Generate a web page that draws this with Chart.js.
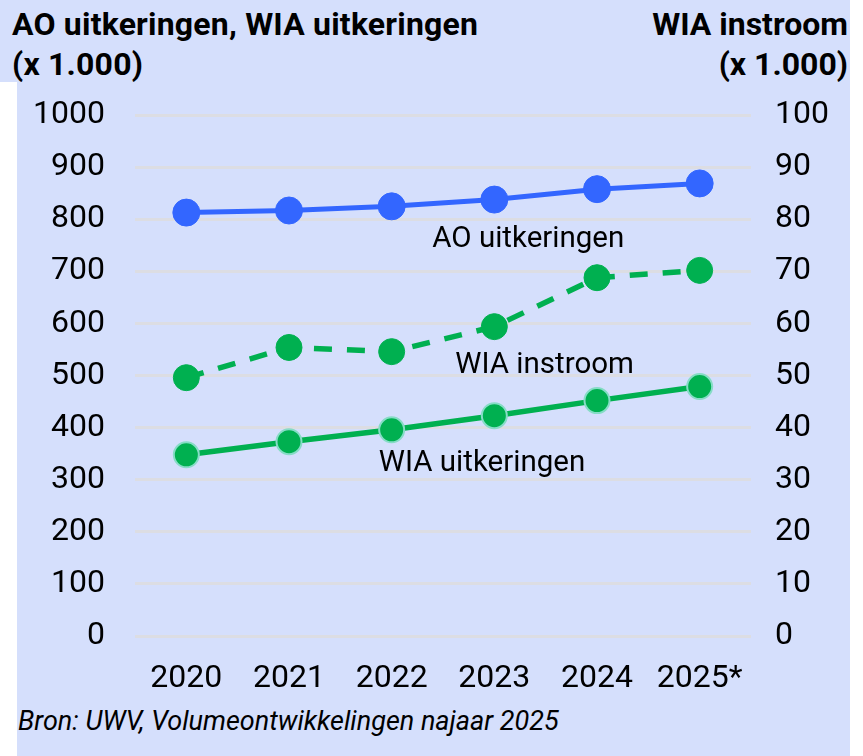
<!DOCTYPE html>
<html>
<head>
    <title>AO en WIA uitkeringen</title>
    <script src="https://cdn.jsdelivr.net/npm/chart.js"></script>
    <style>
        body {
            margin: 0;
            background: #ffffff;
            font-family: Roboto, "Noto Sans", sans-serif;
        }
        .panel {
            position: relative;
            width: 850px;
            height: 756px;
            background: #d5dffc;
        }
        .notch {
            position: absolute;
            left: 0;
            top: 82px;
            width: 17px;
            height: 674px;
            background: #ffffff;
        }
        .title {
            position: absolute;
            top: 4px;
            font-weight: bold;
            font-size: 32px;
            line-height: 40px;
            color: #000;
        }
        .title.left { left: 12px; letter-spacing: 0.2px; }
        .title.right { right: 2px; text-align: right; }
        .source {
            position: absolute;
            left: 18px;
            top: 705px;
            font-size: 27px;
            font-style: italic;
            color: #000;
        }
        .chart-box {
            position: absolute;
            left: 0;
            top: 66px;
            width: 850px;
            height: 634px;
        }
    </style>
</head>
<body>
    <div class="panel">
        <div class="notch"></div>
        <div class="title left">AO uitkeringen, WIA uitkeringen<br>(x 1.000)</div>
        <div class="title right">WIA instroom<br>(x 1.000)</div>
        <div class="chart-box"><canvas id="chart"></canvas></div>
        <div class="source">Bron: UWV, Volumeontwikkelingen najaar 2025</div>
    </div>

    <script>
        const years = ['2020', '2021', '2022', '2023', '2024', '2025*'];
        const aoUitkeringen = [813, 817, 825, 838, 858, 869];
        const wiaUitkeringen = [348, 373, 396, 423, 452, 479];
        const wiaInstroom = [49.6, 55.4, 54.6, 59.4, 68.8, 70.2];

        // series name labels: [text, category position, value on left axis]
        const seriesLabels = [
            ['AO uitkeringen', 3.33, 762],
            ['WIA instroom', 3.49, 519],
            ['WIA uitkeringen', 2.88, 331]
        ];

        const BLUE = '#3366ff';
        const GREEN = '#00b050';
        const FONT = 'Roboto, "Noto Sans", sans-serif';

        const labelPlugin = {
            id: 'seriesLabels',
            afterDatasetsDraw(chart) {
                const ctx = chart.ctx;
                const x = chart.scales.x;
                const y = chart.scales.y;
                ctx.save();
                ctx.fillStyle = '#000';
                ctx.font = '29.5px ' + FONT;
                ctx.textAlign = 'center';
                ctx.textBaseline = 'middle';
                seriesLabels.forEach(([text, pos, val]) => {
                    ctx.fillText(text, x.getPixelForValue(pos), y.getPixelForValue(val));
                });
                ctx.restore();
            }
        };

        new Chart(document.getElementById('chart'), {
            type: 'line',
            data: {
                labels: years,
                datasets: [{
                    label: 'AO uitkeringen',
                    data: aoUitkeringen,
                    yAxisID: 'y',
                    borderColor: BLUE,
                    backgroundColor: BLUE,
                    pointBackgroundColor: BLUE,
                    pointBorderColor: BLUE,
                    borderWidth: 5,
                    pointRadius: 13.5,
                    pointBorderWidth: 1
                }, {
                    label: 'WIA instroom',
                    data: wiaInstroom,
                    yAxisID: 'y2',
                    borderColor: GREEN,
                    backgroundColor: GREEN,
                    pointBackgroundColor: GREEN,
                    pointBorderColor: GREEN,
                    borderWidth: 5.5,
                    borderDash: [18, 15],
                    pointRadius: 13,
                    pointBorderWidth: 1
                }, {
                    label: 'WIA uitkeringen',
                    data: wiaUitkeringen,
                    yAxisID: 'y',
                    borderColor: GREEN,
                    backgroundColor: GREEN,
                    pointBackgroundColor: GREEN,
                    pointBorderColor: '#86dcc6',
                    borderWidth: 5.5,
                    pointRadius: 12.5,
                    pointBorderWidth: 2
                }]
            },
            options: {
                responsive: true,
                maintainAspectRatio: false,
                animation: false,
                layout: { padding: 0 },
                plugins: {
                    legend: { display: false },
                    tooltip: { enabled: false }
                },
                scales: {
                    x: {
                        offset: true,
                        grid: { display: false, drawTicks: false },
                        border: { display: false },
                        ticks: {
                            color: '#000',
                            font: { family: FONT, size: 32 },
                            padding: 24,
                            maxRotation: 0
                        },
                        afterFit(scale) { scale.height = 64; }
                    },
                    y: {
                        position: 'left',
                        min: 0,
                        max: 1000,
                        ticks: {
                            stepSize: 100,
                            color: '#000',
                            font: { family: FONT, size: 32 },
                            padding: 30,
                            callback: (v) => String(v)
                        },
                        grid: { color: '#dcdde3', lineWidth: 3, drawTicks: false },
                        border: { display: false },
                        afterFit(scale) { scale.width = 135; }
                    },
                    y2: {
                        position: 'right',
                        min: 0,
                        max: 100,
                        ticks: {
                            stepSize: 10,
                            color: '#000',
                            font: { family: FONT, size: 32 },
                            padding: 24,
                            callback: (v) => String(v)
                        },
                        grid: { display: false, drawTicks: false },
                        border: { display: false },
                        afterFit(scale) { scale.width = 99; }
                    }
                }
            },
            plugins: [labelPlugin]
        });
    </script>
</body>
</html>
